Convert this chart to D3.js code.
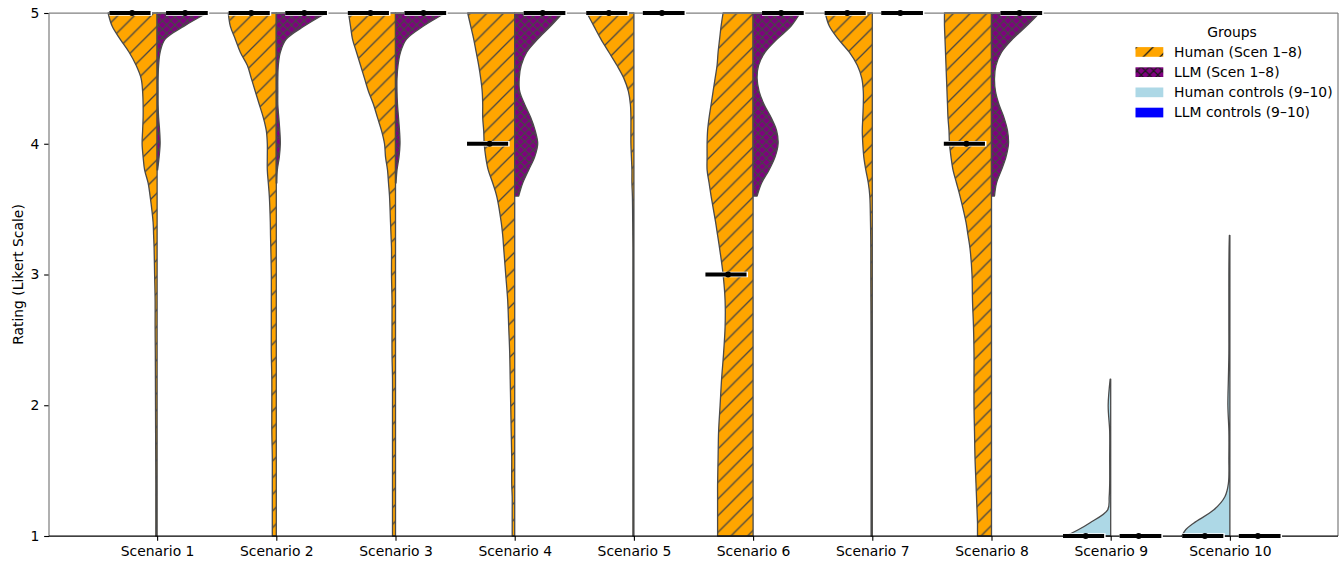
<!DOCTYPE html>
<html>
<head>
<meta charset="utf-8">
<script src="https://cdn.jsdelivr.net/npm/d3@7"></script>
<style>
  html, body { margin: 0; padding: 0; background: #ffffff; }
  svg { display: block; font-family: "DejaVu Sans", sans-serif; }
</style>
</head>
<body>
<svg id="chart" width="1343" height="567"></svg>
<script>
// ---------------- DATA ----------------
const categories = ["Scenario 1","Scenario 2","Scenario 3","Scenario 4","Scenario 5",
                    "Scenario 6","Scenario 7","Scenario 8","Scenario 9","Scenario 10"];
const yTicks = [1, 2, 3, 4, 5];

// rating levels at which the violin density (half-width) was read
const ratingGrid = [5.0,4.9,4.8,4.7,4.6,4.5,4.4,4.3,4.2,4.1,4.0,3.9,3.8,3.7,3.6,3.4,3.3,3.2,
                    3.0,2.8,2.6,2.4,2.2,2.0,1.8,1.6,1.4,1.3,1.2,1.1,1.05,1.0];
const n = null;
// Human density profiles (arbitrary density units, 50 = widest half violin)
const humanDensity = [
  [49,45,37,28,21,16,14.5,14,14,14.5,15,14,12.5,9,7,4,3.5,3,2.5,2,2,1.8,1.7,1.6,1.5,1.4,1.3,1.3,1.3,1.3,1.3,1.3],
  [48,46,41,36,29,25,21,17,13,10,9,9,9,8,7,6,5.8,5.5,5,5,5,5,4.5,4.5,4.5,4,4,4,4,4,4,4],
  [47,45,43,39,35,31,27,22,18,14,11,10,8,7,6,5,4.5,4,4,3.5,3.5,3.5,3,3,3,3,3,3,3,3,3,3],
  [47,44,41,38.5,36,34,32.5,32,32,31,30.5,29,26.5,22,18,13.5,12,11,9,7,6,5,4.5,4,3.5,3,3,2.5,2.5,2.5,2.5,2.5],
  [47,40,33,25,17,10,5.5,3.5,3,3,3,2.5,2,2,1.5,1.2,1.1,1,1,1,1,1,1,1,1,1,1,1,1,1,1,1],
  [30,32,33.5,35,36,38,40,42,44,45.5,46,46,46,44,42,37.5,35.5,33.5,30,28,28,29.5,31.5,33,34.5,35,35.5,35.5,35.5,35.5,35.5,35.5],
  [47,43,34,23,15,10.5,9,9,9.5,10,9.5,8.5,6.5,4,2.5,1.8,1.6,1.5,1.5,1.4,1.3,1.3,1.2,1.2,1.2,1.2,1.2,1.2,1.2,1.2,1.2,1.2],
  [47,47,46.5,46,45.5,45,44.5,44,43.5,42.5,42,40.5,38.5,35,31.5,25.5,23.5,21.5,19.5,19,18,17.5,17.5,17.5,17,16.5,15.5,15,14.5,14,14,14],
  [n,n,n,n,n,n,n,n,n,n,n,n,n,n,n,n,n,n,n,n,n,n,0.5,2.5,1,1,1,1.5,3,21,32,45],
  [n,n,n,n,n,n,n,n,n,n,n,n,n,n,n,n,0.5,0.8,1,1,1,1,1.5,2,1,1,1.5,5,16,36,44,48]
];
// LLM density profiles (empty = all responses identical, no violin drawn)
const llmDensity = [
  [50,27,8,3,1.5,1,1,1,1.5,2.5,3,2,0.5],
  [50,28,10,4,2,1.5,1.5,1.5,2.5,3.5,4,3,1,0.5],
  [50,28,11,5,2.5,1.5,1.5,2,3,4,4.5,3.5,1.5,0.5],
  [48,36,23,12,6.5,4.5,5,10,16,20.5,23,20,14,8,4],
  [],
  [47,38,24,12,5.5,4,6,11,18,23.5,25,22,16,8.5,4],
  [],
  [48,35,21,10,4.5,3,4,7.5,12.5,16,17,14.5,10,5,3],
  [],
  []
];
const humanMedian = [5, 5, 5, 4, 5, 3, 5, 4, 1, 1];
const llmMedian   = [5, 5, 5, 5, 5, 5, 5, 5, 1, 1];

const legendTitle = "Groups";
const legendLabels = ["Human (Scen 1–8)", "LLM (Scen 1–8)", "Human controls (9–10)", "LLM controls (9–10)"];
const yLabel = "Rating (Likert Scale)";

// ---------------- LAYOUT / STYLE ----------------
const W = 1343, H = 567;
const plot = { left: 49, right: 1338, top: 13, bottom: 536 };
const FS = 13.9;
const C = { human: "#FFA500", llm: "#800080", humanCtl: "#ADD8E6", llmCtl: "#0000FF",
            edge: "#4a4a4a", hatch: "#454545", spine: "#808080" };

const svg = d3.select("#chart");
const defs = svg.append("defs");

function hatchPattern(id, bg, size, cross, color, width) {
  const p = defs.append("pattern").attr("id", id)
    .attr("patternUnits", "userSpaceOnUse").attr("width", size).attr("height", size);
  p.append("rect").attr("width", size).attr("height", size).attr("fill", bg);
  const s = size;
  let d = `M0,${s} L${s},0 M-2,2 L2,-2 M${s-2},${s+2} L${s+2},${s-2}`;
  if (cross) d += ` M0,0 L${s},${s} M-2,${s-2} L2,${s+2} M${s-2},-2 L${s+2},2`;
  p.append("path").attr("d", d).attr("stroke", color).attr("stroke-width", width).attr("fill", "none");
}
hatchPattern("hatchHuman", C.human, 16.67, false, C.hatch, 1.3);
hatchPattern("hatchLLM", C.llm, 8.33, true, C.hatch, 1.2);
hatchPattern("hatchHumanLeg", C.human, 16.67, false, "#1a1a1a", 1.3);
hatchPattern("hatchLLMLeg", C.llm, 8.33, true, "#1a1a1a", 1.2);

const x = d3.scalePoint().domain(categories).range([plot.left, plot.right]).padding(0.907);
const slot = x.step();
const y = d3.scaleLinear().domain([1, 5]).range([plot.bottom, plot.top]);
const wScale = d3.scaleLinear().domain([0, 50]).range([0, 0.4195 * slot]);

const humanFill = i => i < 8 ? "url(#hatchHuman)" : C.humanCtl;
const llmFill = i => i < 8 ? "url(#hatchLLM)" : C.llmCtl;

const gV = svg.append("g");
function drawHalf(profile, i, side, fill) {
  const pts = ratingGrid.map((r, k) => ({ r, w: profile[k] })).filter(d => d.w != null && d.w !== undefined);
  if (pts.length < 2) return;
  const cx = x(categories[i]);
  const area = d3.area()
    .y(d => y(d.r))
    .x0(() => cx)
    .x1(d => cx + side * wScale(d.w))
    .curve(d3.curveCatmullRom.alpha(0.5));
  gV.append("path").attr("d", area(pts) + "Z")
    .attr("fill", fill).attr("stroke", C.edge).attr("stroke-width", 1.3)
    .attr("stroke-linejoin", "round");
}
categories.forEach((c, i) => {
  drawHalf(humanDensity[i], i, -1, humanFill(i));
  drawHalf(llmDensity[i], i, 1, llmFill(i));
});

// axes
const xAxis = svg.append("g").attr("transform", `translate(0,${plot.bottom})`)
  .call(d3.axisBottom(x).tickSize(4.86).tickPadding(4.86));
const yAxis = svg.append("g").attr("transform", `translate(${plot.left},0)`)
  .call(d3.axisLeft(y).tickValues(yTicks).tickFormat(d3.format("d")).tickSize(4.86).tickPadding(4.86));
[xAxis, yAxis].forEach(a => {
  a.select(".domain").remove();
  a.selectAll(".tick line").attr("stroke", "#000").attr("stroke-width", 1.1);
  a.selectAll(".tick text").attr("fill", "#000").style("font-size", FS + "px")
    .style("font-family", "DejaVu Sans, sans-serif");
});

// spines
const spines = svg.append("g").attr("fill", "none").attr("stroke-width", 1.25);
spines.append("line").attr("x1", plot.left).attr("x2", plot.left).attr("y1", plot.top).attr("y2", plot.bottom).attr("stroke", C.spine);
spines.append("line").attr("x1", plot.left).attr("x2", plot.right).attr("y1", plot.top).attr("y2", plot.top).attr("stroke", C.spine);
spines.append("line").attr("x1", plot.right).attr("x2", plot.right).attr("y1", plot.top).attr("y2", plot.bottom).attr("stroke", C.spine);
spines.append("line").attr("x1", plot.left).attr("x2", plot.right).attr("y1", plot.bottom).attr("y2", plot.bottom).attr("stroke", "#000");

// medians
const gM = svg.append("g");
function drawMedian(val, i, a, b, dotPos) {
  const cx = x(categories[i]);
  const yy = y(val);
  gM.append("line").attr("x1", cx + a * slot).attr("x2", cx + b * slot + 1.5)
    .attr("y1", yy).attr("y2", yy).attr("stroke", "#fff").attr("stroke-width", 5.5);
  gM.append("line").attr("x1", cx + a * slot).attr("x2", cx + b * slot)
    .attr("y1", yy).attr("y2", yy).attr("stroke", "#000").attr("stroke-width", 4);
  gM.append("circle").attr("cx", cx + dotPos * slot).attr("cy", yy).attr("r", 3).attr("fill", "#000");
}
categories.forEach((c, i) => {
  drawMedian(humanMedian[i], i, -0.40, -0.055, -0.21);
  drawMedian(llmMedian[i], i, 0.075, 0.425, 0.235);
});

// y label
svg.append("text").attr("transform", `translate(23,${(plot.top + plot.bottom) / 2}) rotate(-90)`)
  .attr("text-anchor", "middle").style("font-size", FS + "px").attr("fill", "#000").text(yLabel);

// legend
const lg = svg.append("g");
lg.append("text").attr("x", 1232).attr("y", 32).attr("dy", "0.35em").attr("text-anchor", "middle")
  .style("font-size", FS + "px").attr("fill", "#000").text(legendTitle);
const legFills = ["url(#hatchHumanLeg)", "url(#hatchLLMLeg)", C.humanCtl, C.llmCtl];
legendLabels.forEach((lab, k) => {
  const cy = 52 + k * 20.2;
  lg.append("rect").attr("x", 1135.5).attr("y", cy - 4.9).attr("width", 27.8).attr("height", 9.7)
    .attr("fill", legFills[k]);
  lg.append("text").attr("x", 1174).attr("y", cy).attr("dy", "0.35em")
    .style("font-size", FS + "px").attr("fill", "#000").text(lab);
});
</script>
</body>
</html>
